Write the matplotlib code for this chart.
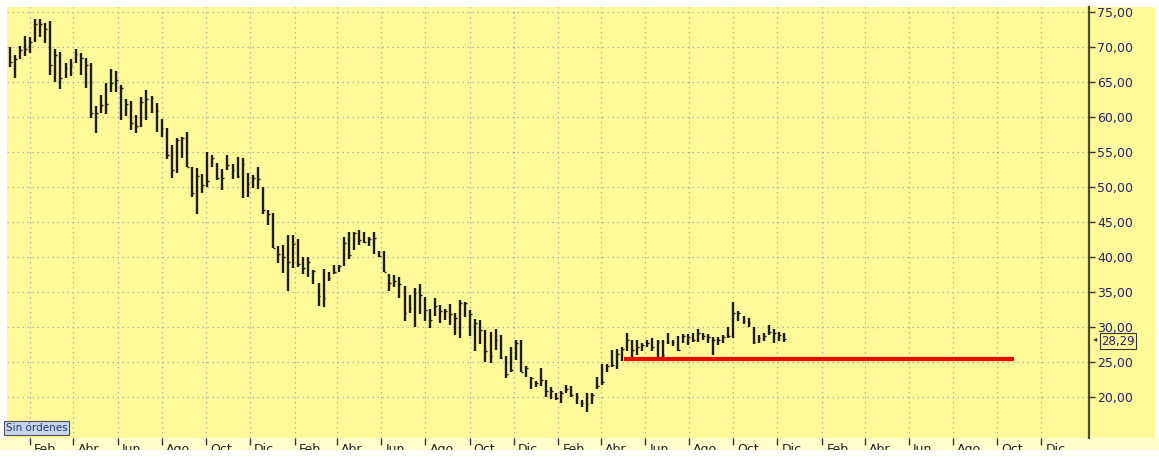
import numpy as np
import pandas as pd
import matplotlib.pyplot as plt
import matplotlib.transforms as mtransforms
from matplotlib.patches import Rectangle

# weekly bars: high, low, close
high = [70.0, 68.9, 70.1, 71.6, 71.4, 74.0, 74.0, 73.4, 73.7, 69.7,
        69.3, 67.7, 68.3, 69.7, 69.1, 68.4, 67.7, 61.6, 63.1, 64.9,
        66.9, 66.6, 64.6, 62.6, 62.3, 60.3, 62.9, 63.8, 63.0, 62.0,
        59.7, 58.4, 56.0, 57.0, 57.2, 57.8, 52.9, 52.7, 51.9, 55.0,
        54.6, 53.4, 52.6, 54.6, 53.3, 54.3, 54.1, 52.0, 51.7, 52.9,
        50.0, 46.7, 46.3, 41.6, 41.7, 43.1, 43.2, 42.6, 40.0, 40.0,
        38.1, 36.3, 38.3, 37.8, 38.9, 38.9, 42.8, 43.5, 43.6, 43.8,
        43.5, 42.9, 43.6, 40.8, 40.8, 37.6, 37.4, 37.2, 35.9, 34.6,
        35.5, 36.2, 34.3, 32.6, 34.2, 33.1, 32.6, 33.3, 32.0, 33.8,
        33.5, 32.4, 31.2, 31.0, 29.5, 29.3, 29.7, 28.9, 25.8, 27.1,
        28.1, 28.1, 24.4, 22.9, 22.3, 24.2, 22.4, 21.4, 20.6, 20.8,
        21.7, 21.6, 20.6, 19.6, 20.5, 20.6, 22.8, 24.7, 24.7, 26.7,
        26.8, 27.2, 29.1, 28.2, 28.2, 27.7, 28.2, 28.4, 28.2, 28.2,
        29.1, 28.2, 28.7, 29.0, 29.0, 29.2, 29.7, 29.1, 29.0, 28.5,
        28.5, 28.9, 30.0, 33.5, 32.3, 31.6, 31.3, 30.0, 28.9, 29.2,
        30.3, 29.7, 29.3, 29.2]
low = [67.1, 65.6, 68.3, 68.7, 69.1, 70.7, 71.4, 70.6, 66.0, 65.0,
       64.0, 65.6, 65.9, 67.7, 66.0, 64.1, 59.9, 57.7, 60.6, 60.4,
       63.6, 63.6, 59.6, 60.1, 58.1, 57.7, 58.5, 59.5, 60.5, 57.9,
       57.2, 54.0, 51.3, 52.0, 54.1, 52.9, 48.6, 46.1, 49.2, 50.0,
       52.9, 51.0, 49.5, 52.4, 51.1, 51.3, 48.4, 48.6, 49.9, 49.7,
       46.1, 44.6, 41.3, 39.1, 37.7, 35.2, 38.4, 38.6, 37.6, 37.1,
       36.1, 33.0, 32.9, 36.5, 37.6, 37.9, 38.7, 39.7, 41.0, 41.7,
       42.0, 41.6, 40.4, 40.0, 37.8, 35.2, 35.7, 34.1, 30.8, 32.0,
       30.0, 31.9, 30.9, 29.8, 31.6, 30.5, 31.0, 30.3, 28.9, 28.4,
       31.4, 28.7, 26.5, 27.6, 25.0, 24.8, 26.7, 25.4, 22.7, 23.6,
       25.3, 23.6, 22.8, 21.2, 21.4, 21.5, 20.0, 19.7, 19.5, 19.1,
       20.5, 20.0, 19.0, 18.6, 17.8, 19.0, 21.1, 21.7, 23.5, 24.3,
       24.0, 25.2, 26.6, 25.5, 26.0, 26.5, 27.2, 26.5, 25.5, 25.5,
       27.6, 27.3, 26.5, 27.7, 27.4, 27.9, 27.8, 28.1, 27.7, 26.0,
       27.4, 27.7, 28.4, 28.4, 30.9, 30.4, 30.0, 27.6, 27.7, 28.0,
       28.9, 27.7, 28.0, 27.8]
close = [67.9, 68.3, 69.6, 69.7, 70.7, 73.3, 73.3, 72.6, 67.4, 68.9,
         65.6, 67.0, 67.4, 69.0, 68.4, 67.4, 60.6, 60.6, 61.7, 61.9,
         64.9, 65.3, 64.1, 61.9, 59.1, 58.7, 62.1, 62.6, 62.7, 60.8,
         58.4, 54.6, 52.4, 56.7, 57.0, 52.9, 49.2, 51.5, 50.3, 50.8,
         54.1, 51.3, 51.3, 53.1, 52.4, 51.5, 53.3, 50.4, 51.3, 51.1,
         46.7, 46.1, 41.3, 40.4, 40.0, 39.3, 41.8, 39.0, 38.4, 39.3,
         38.0, 34.4, 34.1, 37.0, 37.8, 38.7, 42.0, 40.3, 43.4, 42.4,
         42.2, 42.6, 42.7, 40.1, 37.9, 36.3, 36.5, 36.1, 32.0, 32.7,
         34.8, 34.6, 32.4, 31.0, 33.0, 32.3, 32.3, 31.9, 31.3, 33.4,
         33.4, 31.9, 30.5, 29.6, 26.6, 25.9, 28.1, 25.5, 23.3, 23.9,
         27.7, 23.6, 24.1, 22.7, 22.0, 22.4, 20.8, 20.9, 19.8, 20.5,
         21.2, 20.3, 20.0, 19.1, 19.0, 20.3, 21.5, 22.2, 24.4, 24.6,
         26.2, 26.8, 28.1, 26.7, 27.2, 27.4, 27.7, 27.2, 27.8, 26.0,
         27.9, 27.8, 26.7, 28.7, 28.6, 28.1, 29.1, 28.7, 28.6, 28.1,
         28.2, 28.5, 28.7, 32.0, 32.0, 30.8, 30.5, 27.9, 28.4, 28.7,
         29.3, 29.1, 28.9, 28.29]

dates = pd.date_range('2008-01-04', periods=len(high), freq='7D')

support_level = 25.4
support_start = pd.Timestamp('2010-05-02')
support_end = pd.Timestamp('2011-10-24')
last_price = 28.29

month_names = {2: 'Feb', 4: 'Abr', 6: 'Jun', 8: 'Ago', 10: 'Oct', 12: 'Dic'}
month_ticks = [pd.Timestamp(y, m, 1) for y in range(2008, 2012) for m in month_names]
y_ticks = list(range(20, 80, 5))

W, H = 1159, 457
fig = plt.figure(figsize=(W / 100, H / 100), dpi=100, facecolor='white')

yellow = '#fff99a'
# yellow background incl. right price panel, pale strip for dates
fig.add_artist(Rectangle((7 / W, 19 / H), 1148 / W, 431 / H, transform=fig.transFigure,
                         facecolor=yellow, edgecolor='none', zorder=-5))
fig.add_artist(Rectangle((0, 7 / H), 1, 12 / H, transform=fig.transFigure,
                         facecolor='#ffffcc', edgecolor='none', zorder=-5))

ax = fig.add_axes([7 / W, 19 / H, 1082 / W, 431 / H])
ax.set_facecolor(yellow)

ax.vlines(dates, low, high, color='#1c1c10', lw=1.7, zorder=3)
ax.hlines(close, dates, dates + pd.Timedelta(days=2.5), color='#1c1c10', lw=1.0, zorder=3)
ax.hlines(support_level, support_start, support_end, color='#ff0000', lw=3, zorder=4)

ax.set_xlim(pd.Timestamp('2007-12-31'), pd.Timestamp('2012-02-05'))
ax.set_ylim(14.14, 75.7)

ax.yaxis.tick_right()
ax.set_yticks(y_ticks)
ax.set_yticklabels(['%d,00' % v for v in y_ticks], color='#22226e', fontsize=9)
ax.tick_params(axis='y', direction='out', length=4, width=1, color='#333333', pad=2)

ax.set_xticks(month_ticks)
ax.set_xticklabels([])
ax.tick_params(axis='x', direction='out', length=5, width=1, color='#333333')

# month labels start just right of their tick
offset = mtransforms.ScaledTranslation(4 / 100, 0, fig.dpi_scale_trans)
trans = mtransforms.blended_transform_factory(ax.transData, ax.transAxes) + offset
for d in month_ticks:
    ax.text(d, -0.012, month_names[d.month], transform=trans, ha='left', va='top',
            fontsize=9, color='#222222', clip_on=False)

ax.grid(True, color='#b2b2a6', linestyle=(0, (1.2, 2.8)), lw=0.9)
ax.set_axisbelow(True)

for s in ['top', 'left', 'bottom']:
    ax.spines[s].set_visible(False)
ax.spines['right'].set_color('#4a4a38')
ax.spines['right'].set_linewidth(1.6)

# last price marker
ax.annotate(('%.2f' % last_price).replace('.', ','), xy=(1.002, last_price),
            xycoords=('axes fraction', 'data'), xytext=(7, -1.5), textcoords='offset points',
            ha='left', va='center', fontsize=8.5, color='#22226e',
            bbox=dict(boxstyle='square,pad=0.1', fc=yellow, ec='#333333', lw=0.8),
            annotation_clip=False)
ax.text(1.004, last_price, '\u25c2', transform=mtransforms.blended_transform_factory(ax.transAxes, ax.transData),
        ha='left', va='center', fontsize=6, color='#333333', clip_on=False)

# status box
fig.text(6 / W, (457 - 428) / H, 'Sin órdenes', fontsize=7.5, color='#1f3a70',
         ha='left', va='center',
         bbox=dict(boxstyle='square,pad=0.15', fc='#c9d6ea', ec='#505060', lw=0.8))

# image is cut at the bottom
fig.add_artist(Rectangle((0, 0), 1, 7 / H, transform=fig.transFigure,
                         facecolor='white', edgecolor='none', zorder=10))

plt.savefig('out.png', dpi=100, facecolor='white')
